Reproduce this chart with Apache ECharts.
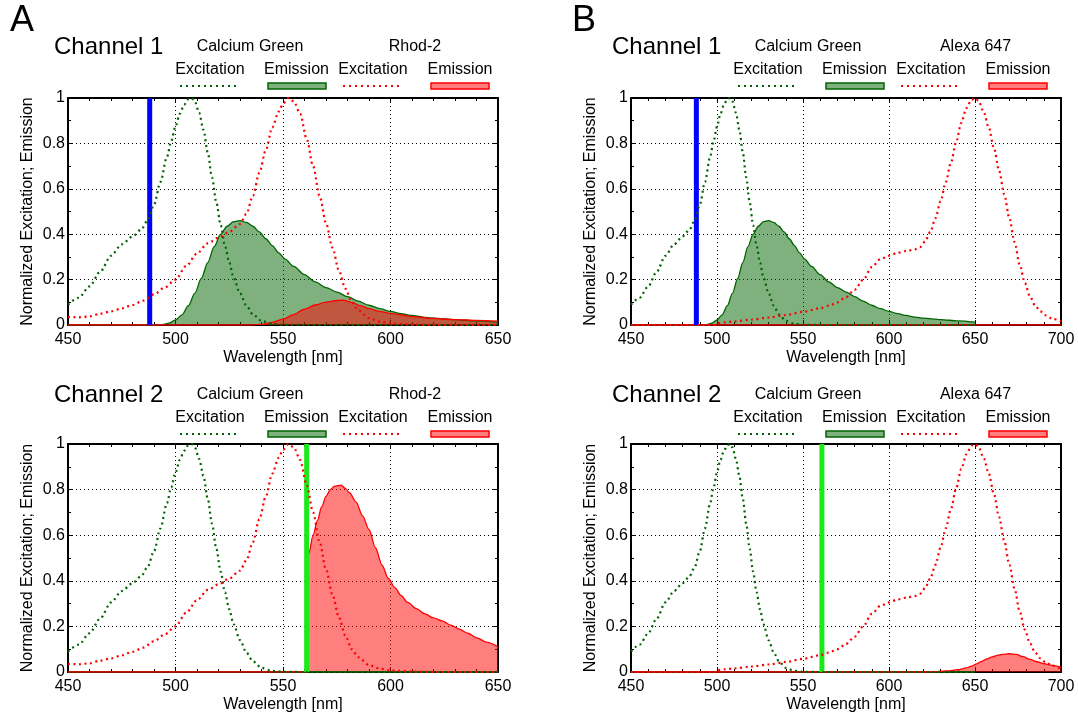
<!DOCTYPE html>
<html>
<head>
<meta charset="utf-8">
<script src="https://cdn.jsdelivr.net/npm/echarts@6/dist/echarts.min.js"></script>
<style>
html,body{margin:0;padding:0;background:#fff;}
#chart{width:1078px;height:727px;}
</style>
</head>
<body>
<div id="chart"></div>
<script>
// ---------------- data (wavelength [nm], normalized value) ----------------
const cgEx = [[450,0.09],[455,0.12],[460,0.17],[465,0.235],[470,0.305],[475,0.355],[480,0.39],[484,0.42],[487,0.46],[490,0.53],[493,0.63],[496,0.74],[498,0.81],[500,0.875],[502,0.93],[504,0.97],[506,0.995],[507.5,1.0],[509,0.985],[511,0.935],[513,0.86],[515,0.76],[517,0.65],[519,0.54],[521,0.44],[523,0.35],[525,0.275],[527,0.21],[530,0.14],[533,0.085],[536,0.047],[540,0.018],[545,0.005],[550,0.001],[560,0],[600,0],[650,0]];
const cgEm = [[450,0],[490,0],[494,0.002],[497,0.008],[500,0.022],[503,0.045],[506,0.085],[509,0.14],[512,0.205],[515,0.275],[518,0.345],[521,0.4],[524,0.435],[527,0.455],[530,0.46],[533,0.452],[536,0.435],[539,0.41],[542,0.38],[545,0.35],[548,0.318],[551,0.29],[555,0.258],[560,0.222],[565,0.19],[570,0.165],[575,0.145],[580,0.125],[585,0.105],[590,0.087],[595,0.072],[600,0.06],[605,0.05],[610,0.042],[615,0.035],[620,0.03],[630,0.024],[640,0.018],[650,0.013]];
const cgEmCh2 = [[450,0],[650,0]];
const rhodEx = [[450,0.035],[455,0.034],[460,0.038],[465,0.05],[470,0.06],[475,0.073],[480,0.088],[485,0.107],[490,0.135],[495,0.165],[500,0.2],[505,0.26],[510,0.315],[515,0.36],[520,0.385],[525,0.41],[530,0.445],[533,0.49],[536,0.57],[539,0.67],[542,0.77],[545,0.87],[548,0.94],[550,0.975],[552.5,1.0],[555,0.985],[558,0.93],[561,0.82],[564,0.7],[567,0.57],[570,0.45],[573,0.34],[576,0.24],[579,0.16],[582,0.1],[585,0.065],[590,0.03],[595,0.015],[600,0.007],[610,0.002],[620,0],[650,0]];
const rhodEmCh1 = [[450,0],[535,0],[540,0.003],[545,0.012],[550,0.026],[555,0.046],[560,0.07],[565,0.088],[570,0.101],[575,0.108],[578,0.109],[582,0.1],[586,0.085],[590,0.072],[595,0.06],[600,0.051],[605,0.044],[610,0.037],[620,0.029],[630,0.024],[640,0.02],[650,0.017]];
const rhodEmCh2 = [[450,0],[560.6,0],[561,0.45],[562,0.52],[564,0.6],[566,0.665],[568,0.725],[570,0.77],[572,0.8],[574,0.815],[577,0.82],[579,0.805],[581,0.785],[584,0.745],[587,0.685],[590,0.625],[593,0.545],[596,0.47],[599,0.41],[602,0.37],[605,0.335],[608,0.305],[612,0.278],[616,0.255],[620,0.237],[624,0.224],[628,0.206],[632,0.188],[636,0.17],[640,0.15],[645,0.13],[650,0.11]];
const alexaEx = [[450,0],[470,0],[490,0],[499,0],[500,0.008],[505,0.012],[510,0.016],[520,0.024],[530,0.033],[540,0.044],[550,0.058],[560,0.074],[565,0.085],[570,0.1],[575,0.123],[580,0.155],[585,0.2],[590,0.255],[595,0.29],[600,0.305],[605,0.318],[610,0.326],[615,0.333],[618,0.343],[621,0.368],[624,0.41],[627,0.47],[630,0.545],[633,0.63],[636,0.715],[639,0.805],[642,0.89],[645,0.955],[648,0.993],[650,1.0],[652,0.988],[655,0.94],[658,0.87],[661,0.78],[664,0.68],[667,0.575],[670,0.47],[673,0.365],[676,0.265],[679,0.185],[682,0.125],[685,0.085],[688,0.06],[691,0.043],[695,0.028],[700,0.015]];
const alexaEmCh1 = [[450,0],[700,0]];
const alexaEmCh2 = [[450,0],[620,0],[628,0.002],[634,0.005],[640,0.01],[645,0.018],[648,0.026],[651,0.036],[654,0.047],[657,0.058],[660,0.066],[663,0.073],[666,0.077],[670,0.08],[674,0.077],[678,0.067],[682,0.055],[686,0.045],[690,0.037],[694,0.03],[700,0.02]];
const laserBlue = [[488,0],[488,1]];
const laserGreen = [[561,0],[561,1]];
const xRangeA = [450, 650];
const xRangeB = [450, 700];
const panelLetters = ['A', 'B'];
const channelNames = ['Channel 1', 'Channel 2'];
const dyeNamesA = ['Calcium Green', 'Rhod-2'];
const dyeNamesB = ['Calcium Green', 'Alexa 647'];
const legendLabels = ['Excitation', 'Emission', 'Excitation', 'Emission'];
const xTitle = 'Wavelength [nm]';
const yTitle = 'Normalized Excitation; Emission';

// ---------------- styling / layout ----------------
const FONT = "'Liberation Sans', Arial, Helvetica, sans-serif";
const FS = 16;
const GREEN = '#006400';
const RED = '#ff0000';
const GREEN_FILL = 'rgba(0,100,0,0.5)';
const RED_FILL = 'rgba(255,0,0,0.5)';
const grids = [
  {left: 68, top: 98, width: 430, height: 227},
  {left: 631, top: 98, width: 430, height: 227},
  {left: 68, top: 444, width: 430, height: 228},
  {left: 631, top: 444, width: 430, height: 228}
];
const gridRanges = [xRangeA, xRangeB, xRangeA, xRangeB];

const xAxes = [], yAxes = [];
gridRanges.forEach((r, gi) => {
  const tickCommon = {show: true, inside: true, length: 5, lineStyle: {color: '#000', width: 1}};
  const minorCommon = {show: true, splitNumber: 5, length: 3, lineStyle: {color: '#000', width: 1}};
  xAxes.push({
    type: 'value', gridIndex: gi, min: r[0], max: r[1], interval: 50, position: 'bottom',
    axisLine: {show: true, onZero: false, lineStyle: {color: '#000', width: 2}},
    axisTick: tickCommon, minorTick: minorCommon,
    axisLabel: {color: '#000', fontSize: FS, fontFamily: FONT, margin: 7},
    splitLine: {show: true, lineStyle: {color: '#000', width: 1, type: [1, 3]}},
    name: xTitle, nameLocation: 'middle', nameGap: 25,
    nameTextStyle: {color: '#000', fontSize: FS, fontFamily: FONT}
  });
  xAxes.push({
    type: 'value', gridIndex: gi, min: r[0], max: r[1], interval: 50, position: 'top',
    axisLine: {show: true, onZero: false, lineStyle: {color: '#000', width: 2}},
    axisTick: tickCommon, minorTick: minorCommon,
    axisLabel: {show: false}, splitLine: {show: false}
  });
  yAxes.push({
    type: 'value', gridIndex: gi, min: 0, max: 1, interval: 0.2, position: 'left',
    axisLine: {show: true, onZero: false, lineStyle: {color: '#000', width: 2}},
    axisTick: tickCommon, minorTick: {show: true, splitNumber: 2, length: 3, lineStyle: {color: '#000', width: 1}},
    axisLabel: {color: '#000', fontSize: FS, fontFamily: FONT, margin: 3},
    splitLine: {show: true, lineStyle: {color: '#000', width: 1, type: [1, 3]}},
    name: yTitle, nameLocation: 'middle', nameGap: 32, nameRotate: 90,
    nameTextStyle: {color: '#000', fontSize: FS, fontFamily: FONT}
  });
  yAxes.push({
    type: 'value', gridIndex: gi, min: 0, max: 1, interval: 0.2, position: 'right',
    axisLine: {show: true, onZero: false, lineStyle: {color: '#000', width: 2}},
    axisTick: tickCommon, minorTick: {show: true, splitNumber: 2, length: 3, lineStyle: {color: '#000', width: 1}},
    axisLabel: {show: false}, splitLine: {show: false}
  });
});

function fill(gi, data, line, area) {
  return {type: 'line', xAxisIndex: 2 * gi, yAxisIndex: 2 * gi, data: data, symbol: 'none',
    smooth: 0.3, smoothMonotone: 'x', silent: true,
    lineStyle: {color: line, width: 1.3}, areaStyle: {color: area, opacity: 1}};
}
function dotted(gi, data, color) {
  return {type: 'line', xAxisIndex: 2 * gi, yAxisIndex: 2 * gi, data: data, symbol: 'none',
    smooth: 0.3, smoothMonotone: 'x', silent: true,
    lineStyle: {color: color, width: 2.2, type: [2, 3.5]}};
}
function laser(gi, data, color) {
  return {type: 'line', xAxisIndex: 2 * gi, yAxisIndex: 2 * gi, data: data, symbol: 'none', silent: true,
    lineStyle: {color: color, width: 5}};
}

const series = [
  // A, channel 1
  fill(0, cgEm, GREEN, GREEN_FILL), fill(0, rhodEmCh1, RED, RED_FILL),
  laser(0, laserBlue, '#0000ff'), dotted(0, cgEx, GREEN), dotted(0, rhodEx, RED),
  // B, channel 1
  fill(1, cgEm, GREEN, GREEN_FILL), fill(1, alexaEmCh1, RED, RED_FILL),
  laser(1, laserBlue, '#0000ff'), dotted(1, cgEx, GREEN), dotted(1, alexaEx, RED),
  // A, channel 2
  fill(2, cgEmCh2, GREEN, GREEN_FILL), fill(2, rhodEmCh2, RED, RED_FILL),
  laser(2, laserGreen, '#1aea1a'), dotted(2, cgEx, GREEN), dotted(2, rhodEx, RED),
  // B, channel 2
  fill(3, cgEmCh2, GREEN, GREEN_FILL), fill(3, alexaEmCh2, RED, RED_FILL),
  laser(3, laserGreen, '#1aea1a'), dotted(3, cgEx, GREEN), dotted(3, alexaEx, RED)
];

// ---------------- headers / legends ----------------
const graphics = [];
function txt(text, x, y, size, align) {
  graphics.push({type: 'text', silent: true, style: {text: text, x: x, y: y, fill: '#000',
    font: size + 'px ' + FONT, align: align || 'center', verticalAlign: 'middle'}});
}
function header(dx, y0, channel, dyes) {
  txt(channel, 54 + dx, y0, 24, 'left');
  txt(dyes[0], 250 + dx, y0, FS);
  txt(dyes[1], 415 + dx + (dx ? 2.5 : 0), y0, FS);
  const yl = y0 + 23, ys = y0 + 39;
  txt(legendLabels[0], 210 + dx, yl, FS);
  txt(legendLabels[1], 296.5 + dx, yl, FS);
  txt(legendLabels[2], 373 + dx, yl, FS);
  txt(legendLabels[3], 460 + dx, yl, FS);
  graphics.push({type: 'line', silent: true, shape: {x1: 180 + dx, y1: ys, x2: 238 + dx, y2: ys},
    style: {stroke: GREEN, lineWidth: 2, lineDash: [2, 4]}});
  graphics.push({type: 'rect', silent: true, shape: {x: 268 + dx, y: ys - 3, width: 58, height: 6},
    style: {fill: GREEN_FILL, stroke: GREEN, lineWidth: 1.5}});
  graphics.push({type: 'line', silent: true, shape: {x1: 343 + dx, y1: ys, x2: 401 + dx, y2: ys},
    style: {stroke: RED, lineWidth: 2, lineDash: [2, 4]}});
  graphics.push({type: 'rect', silent: true, shape: {x: 431 + dx, y: ys - 3, width: 58, height: 6},
    style: {fill: RED_FILL, stroke: RED, lineWidth: 1.5}});
}
txt(panelLetters[0], 22, 21, 36);
txt(panelLetters[1], 584, 21, 36);
header(0, 47, channelNames[0], dyeNamesA);
header(0, 395, channelNames[1], dyeNamesA);
header(558, 47, channelNames[0], dyeNamesB);
header(558, 395, channelNames[1], dyeNamesB);

const chart = echarts.init(document.getElementById('chart'), null, {renderer: 'canvas'});
chart.setOption({
  animation: false,
  backgroundColor: '#fff',
  textStyle: {fontFamily: FONT},
  grid: grids.map(g => Object.assign({containLabel: false}, g)),
  xAxis: xAxes,
  yAxis: yAxes,
  series: series,
  graphic: {elements: graphics}
});
</script>
</body>
</html>
